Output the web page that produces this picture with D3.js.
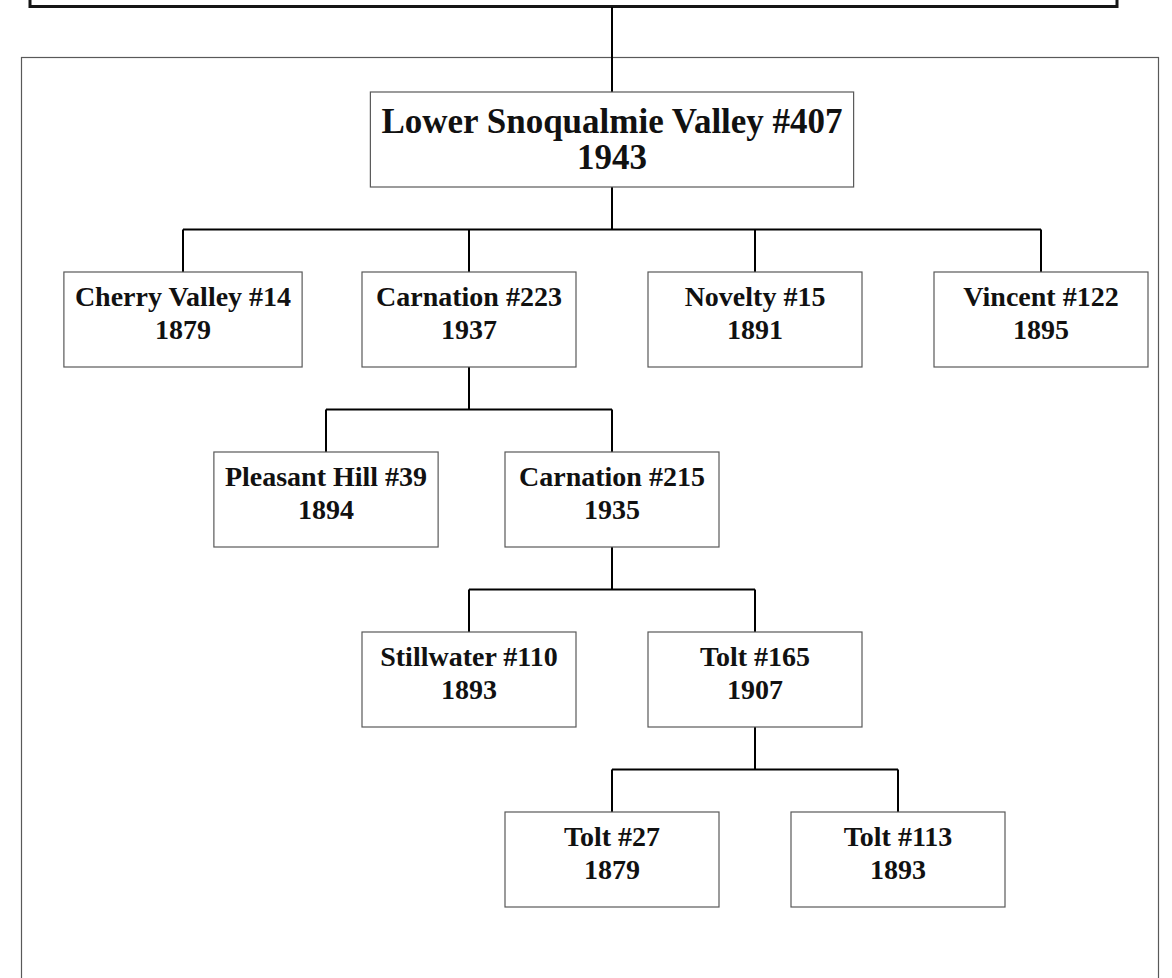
<html lang="en">
    <head>
        <meta charset="utf-8">
        <title>Lower Snoqualmie Valley #407</title>
        <script type="text/javascript" src="https://cdn.jsdelivr.net/npm/d3@7"></script>
	<style>
	  body { margin: 0; background: #fff; }
	  text { font-family: "Liberation Serif", "Times New Roman", serif; font-weight: bold; fill: #111; }
	</style>
    </head>
    <body>
        <script type="text/javascript">
		// districts and what they merged from
		var names = ["Lower Snoqualmie Valley #407", "Cherry Valley #14", "Carnation #223", "Novelty #15", "Vincent #122",
		             "Pleasant Hill #39", "Carnation #215", "Stillwater #110", "Tolt #165", "Tolt #27", "Tolt #113"];
		var years = ["1943", "1879", "1937", "1891", "1895", "1894", "1935", "1893", "1907", "1879", "1893"];
		var parents = ["", "Lower Snoqualmie Valley #407", "Lower Snoqualmie Valley #407", "Lower Snoqualmie Valley #407",
		               "Lower Snoqualmie Valley #407", "Carnation #223", "Carnation #223", "Carnation #215",
		               "Carnation #215", "Tolt #165", "Tolt #165"];

		var w = 1172;
		var h = 978;
		var boxH = 95;
		var minW = 214;
		var originX = 612;

		var rows = names.map(function(n, i) { return {name: n, year: years[i], parent: parents[i]}; });

		var root = d3.stratify()
			.id(function(d) { return d.name; })
			.parentId(function(d) { return d.parent || null; })(rows);

		d3.tree()
			.nodeSize([286, 180])
			.separation(function(a, b) { return a.parent === b.parent ? 1 : 1.2; })(root);

		var xScale = d3.scaleLinear().domain([0, 1]).range([originX, originX + 1]);
		var yScale = d3.scaleLinear().domain([0, 720]).range([92, 812]);

		var svg = d3.select("body")
			.append("svg")
			.attr("width", w)
			.attr("height", h);

		// outer frame and cut-off parent box
		svg.append("rect")
			.attr("x", 21.5).attr("y", 57.5)
			.attr("width", 1137).attr("height", h)
			.attr("fill", "none").attr("stroke", "#595959").attr("stroke-width", 1.2);
		svg.append("rect")
			.attr("x", 30).attr("y", -40)
			.attr("width", 1087).attr("height", 46.5)
			.attr("fill", "none").attr("stroke", "#151515").attr("stroke-width", 3);
		svg.append("line")
			.attr("x1", xScale(root.x)).attr("x2", xScale(root.x))
			.attr("y1", 7).attr("y2", yScale(root.y))
			.attr("stroke", "#000").attr("stroke-width", 2);

		// elbow connectors
		var links = svg.append("g");
		root.descendants().filter(function(d) { return d.children; }).forEach(function(p) {
			var bottom = yScale(p.y) + boxH;
			var top = yScale(p.children[0].y);
			var mid = (bottom + top) / 2;
			var xs = p.children.map(function(c) { return xScale(c.x); });
			links.append("path")
				.attr("d", "M" + xScale(p.x) + "," + bottom + "V" + mid)
				.attr("stroke", "#000").attr("stroke-width", 2).attr("fill", "none");
			links.append("path")
				.attr("d", "M" + d3.min(xs) + "," + mid + "H" + d3.max(xs))
				.attr("stroke", "#000").attr("stroke-width", 2).attr("fill", "none");
			p.children.forEach(function(c) {
				links.append("path")
					.attr("d", "M" + xScale(c.x) + "," + mid + "V" + top)
					.attr("stroke", "#000").attr("stroke-width", 2).attr("fill", "none");
			});
		});

		var node = svg.selectAll("g.node")
			.data(root.descendants())
			.enter()
			.append("g")
			.attr("class", "node")
			.attr("transform", function(d) { return "translate(" + xScale(d.x) + "," + yScale(d.y) + ")"; });

		var box = node.append("rect")
			.attr("fill", "#fff")
			.attr("stroke", "#595959")
			.attr("stroke-width", 1.2);

		node.append("text")
			.attr("text-anchor", "middle")
			.attr("y", function(d) { return d.depth ? 34 : 41; })
			.attr("font-size", function(d) { return d.depth ? "28px" : "35px"; })
			.text(function(d) { return d.data.name; });

		node.append("text")
			.attr("text-anchor", "middle")
			.attr("y", function(d) { return d.depth ? 67 : 77; })
			.attr("font-size", function(d) { return d.depth ? "28px" : "35px"; })
			.text(function(d) { return d.data.year; });

		// size each box round its label
		box.each(function(d) {
			var tw = d3.select(this.parentNode).select("text").node().getComputedTextLength();
			var bw = Math.max(minW, tw + 22);
			d3.select(this)
				.attr("x", -bw / 2).attr("y", 0)
				.attr("width", bw).attr("height", boxH);
		});
        </script>
    </body>
</html>
